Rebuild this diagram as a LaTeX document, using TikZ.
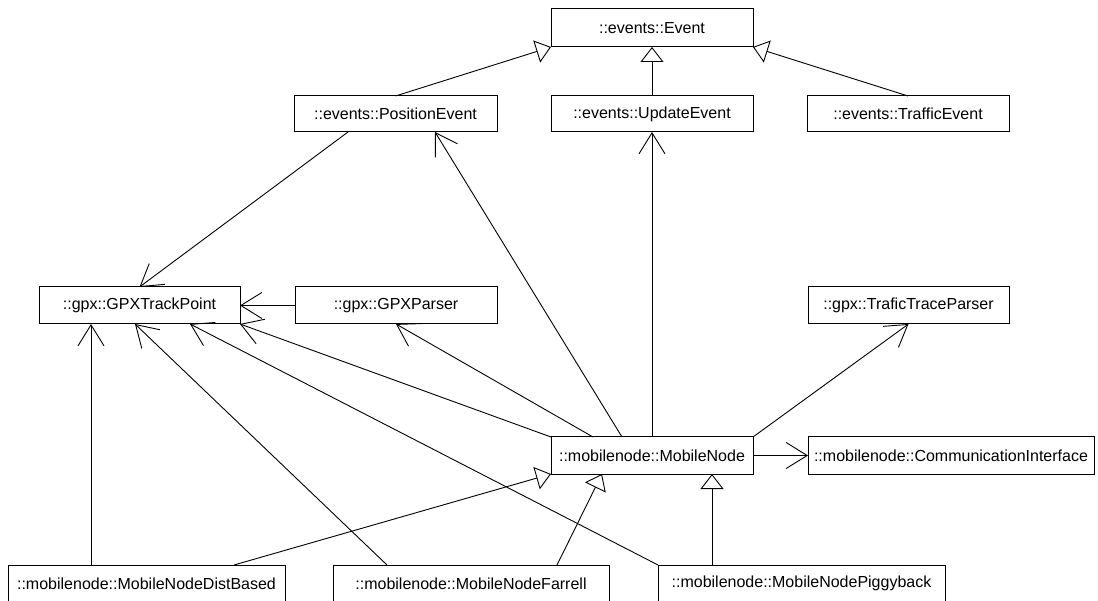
\documentclass[tikz,border=0pt]{standalone}
\usepackage{fontspec}
\setmainfont{Liberation Sans}
\usetikzlibrary{arrows.meta}

\begin{document}
\begin{tikzpicture}[x=1pt,y=-1pt,
  cls/.style={draw=black,line width=1pt,inner sep=0pt,outer sep=0pt,
              minimum height=37pt,font=\fontsize{16}{19}\selectfont},
  uses/.style={draw=black,line width=0.9pt,
               -{Straight Barb[length=21pt,width=26pt,line width=0.9pt]}},
  isa/.style={draw=black,line width=0.9pt,
              -{Triangle[open,length=15pt,width=23pt,line width=0.9pt]}}]

\clip (0,0) rectangle (1098,601);
\useasboundingbox (0,0) rectangle (1098,601);

% classes
\node[cls,minimum width=202pt,minimum height=38pt] (ev) at (652,28) {::events::Event};
\node[cls,minimum width=203pt,minimum height=36pt] (pe) at (395.5,114) {::events::PositionEvent};
\node[cls,minimum width=202pt,minimum height=36pt] (ue) at (652,114) {::events::UpdateEvent};
\node[cls,minimum width=202pt,minimum height=36pt] (te) at (908,114) {::events::TrafficEvent};

\node[cls,minimum width=201pt] (gtp) at (139.5,305.5) {::gpx::GPXTrackPoint};
\node[cls,minimum width=202pt] (gp)  at (396,305.5)   {::gpx::GPXParser};
\node[cls,minimum width=201pt] (ttp) at (908.5,305.5) {::gpx::TraficTraceParser};

\node[cls,minimum width=202pt] (mn) at (652,455.5) {::mobilenode::MobileNode};
\node[cls,minimum width=286pt] (ci) at (951,455.5) {::mobilenode::CommunicationInterface};

\node[cls,minimum width=277pt] (db) at (146.5,583.5) {::mobilenode::MobileNodeDistBased};
\node[cls,minimum width=276pt] (fa) at (471,583.5)   {::mobilenode::MobileNodeFarrell};
\node[cls,minimum width=287pt] (pb) at (801.5,583.5) {::mobilenode::MobileNodePiggyback};

% generalisations of Event
\draw[isa] (pe.north) -- (ev.south west);
\draw[isa] (ue.north) -- (ev.south);
\draw[isa] (te.north) -- (ev.south east);

% associations
\draw[uses] ([xshift=-47.5pt]pe.south) -- (gtp.north);
\draw[uses] (gp.west) -- (gtp.east);
\draw[uses] (mn.north west) -- (gtp.south east);
\draw[uses] ([xshift=-59pt]mn.north) -- (gp.south);
\draw[uses] ([xshift=-30pt]mn.north) -- ([xshift=39.5pt]pe.south);
\draw[uses] (mn.north) -- (ue.south);
\draw[uses] (mn.north east) -- (ttp.south);
\draw[uses] (mn.east) -- (ci.west);

\draw[uses] ([xshift=-55.5pt]db.north) -- ([xshift=-48.5pt]gtp.south);
\draw[uses] ([xshift=-84pt]fa.north) -- ([xshift=-4.5pt]gtp.south);
\draw[uses] (pb.north west) -- ([xshift=50.5pt]gtp.south);

% generalisations of MobileNode
\draw[isa] ([xshift=87.5pt]db.north) -- (mn.south west);
\draw[isa] ([xshift=86pt]fa.north) -- ([xshift=-50pt]mn.south);
\draw[isa] ([xshift=-89.5pt]pb.north) -- ([xshift=60pt]mn.south);

\end{tikzpicture}
\end{document}
